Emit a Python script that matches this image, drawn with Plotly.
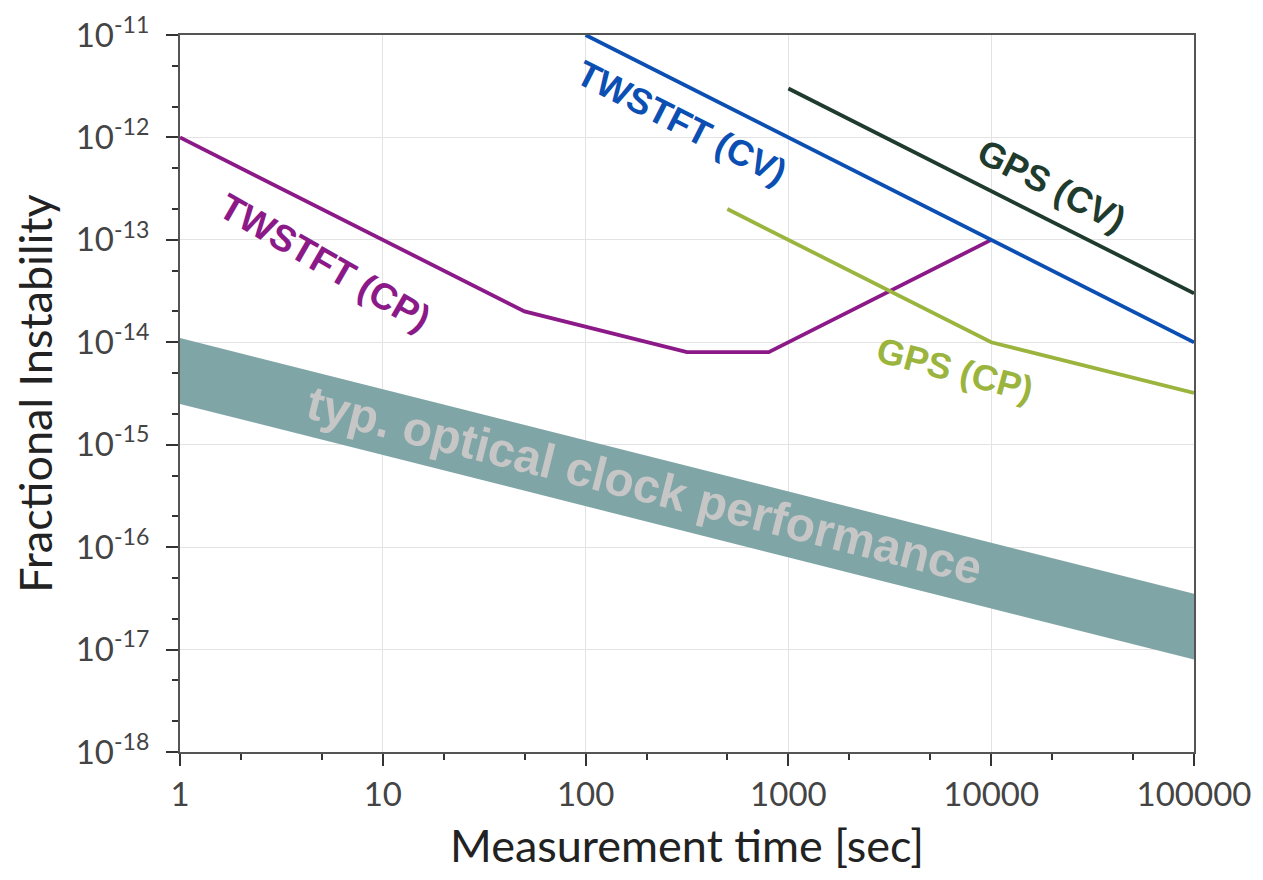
import plotly.graph_objects as go

# ---- data ----
cp_tau = [1, 50, 316, 800, 10000]
cp_sigma = [1e-12, 2e-14, 8e-15, 8e-15, 1e-13]

cv_tau = [100, 100000]
cv_sigma = [1e-11, 1e-14]

gps_cv_tau = [1000, 100000]
gps_cv_sigma = [3e-12, 3e-14]

gps_cp_tau = [500, 10000, 100000]
gps_cp_sigma = [2e-13, 1e-14, 3.2e-15]

band_tau = [1, 100000]
band_hi = [1.1e-14, 3.5e-17]
band_lo = [2.5e-15, 8e-18]

x_ticks = [1, 10, 100, 1000, 10000, 100000]
x_ticktext = ["1", "10", "100", "1000", "10000", "100000"]
y_ticks = [1e-18, 1e-17, 1e-16, 1e-15, 1e-14, 1e-13, 1e-12, 1e-11]
y_ticktext = ["10<sup>-18</sup>", "10<sup>-17</sup>", "10<sup>-16</sup>", "10<sup>-15</sup>",
              "10<sup>-14</sup>", "10<sup>-13</sup>", "10<sup>-12</sup>", "10<sup>-11</sup>"]

C_CP = "#8b1a88"
C_CV = "#0b4fb3"
C_GCV = "#1e3b2d"
C_GCP = "#9bb43e"
C_BAND = "#80a5a6"

fig = go.Figure()

# band
fig.add_trace(go.Scatter(x=band_tau, y=band_lo, mode="lines", line=dict(width=0, color=C_BAND),
                         showlegend=False, hoverinfo="skip"))
fig.add_trace(go.Scatter(x=band_tau, y=band_hi, mode="lines", line=dict(width=0, color=C_BAND),
                         fill="tonexty", fillcolor=C_BAND, showlegend=False, hoverinfo="skip"))

LW = 3.8
fig.add_trace(go.Scatter(x=cp_tau, y=cp_sigma, mode="lines", line=dict(color=C_CP, width=LW), showlegend=False))
fig.add_trace(go.Scatter(x=cv_tau, y=cv_sigma, mode="lines", line=dict(color=C_CV, width=LW), showlegend=False))
fig.add_trace(go.Scatter(x=gps_cv_tau, y=gps_cv_sigma, mode="lines", line=dict(color=C_GCV, width=LW), showlegend=False))
fig.add_trace(go.Scatter(x=gps_cp_tau, y=gps_cp_sigma, mode="lines", line=dict(color=C_GCP, width=LW), showlegend=False))

LBL_FONT = "Liberation Sans, Arial, sans-serif"
def lab(text, lx, ly, ang, color, size):
    fig.add_annotation(x=lx, y=ly, xref="x", yref="y", text="<b>" + text + "</b>", showarrow=False,
                       textangle=ang, font=dict(family=LBL_FONT, size=size, color=color))

lab("TWSTFT (CP)", 0.715, -13.217, 30, C_CP, 37)
lab("TWSTFT (CV)", 2.475, -11.85, 27, C_CV, 36)
lab("GPS (CV)", 4.30, -12.465, 27, C_GCV, 36)
lab("GPS (CP)", 3.82, -14.27, 15, C_GCP, 36)
lab("typ. optical clock performance", 2.293, -15.395, 14, "#c6c6c6", 48)

AX_FONT = "Lato, DejaVu Sans, sans-serif"
axis_common = dict(
    type="log", showline=True, linecolor="#555555", linewidth=2, mirror=True,
    showgrid=True, gridcolor="#e3e3e3", gridwidth=1,
    ticks="outside", ticklen=12, tickwidth=2, tickcolor="#333333",
    tickfont=dict(family=AX_FONT, size=33, color="#444444"),
    minor=dict(ticks="outside", ticklen=6, tickwidth=2, tickcolor="#333333", showgrid=False),
    zeroline=False, automargin=False,
)

fig.update_xaxes(**axis_common, range=[0, 5], tickvals=x_ticks, ticktext=x_ticktext,
                 title=dict(text="Measurement time [sec]", font=dict(family=AX_FONT, size=45, color="#222222"),
                            standoff=38))
fig.update_yaxes(**axis_common, range=[-18, -11], tickvals=y_ticks, ticktext=y_ticktext,
                 ticklabelstandoff=10,
                 title=dict(text="Fractional Instability", font=dict(family=AX_FONT, size=45, color="#222222"),
                            standoff=12))

fig.update_layout(
    width=1247, height=864,
    margin=dict(l=172, r=61, t=27, b=120),
    paper_bgcolor="white", plot_bgcolor="white",
)

fig.write_html("out.html")
